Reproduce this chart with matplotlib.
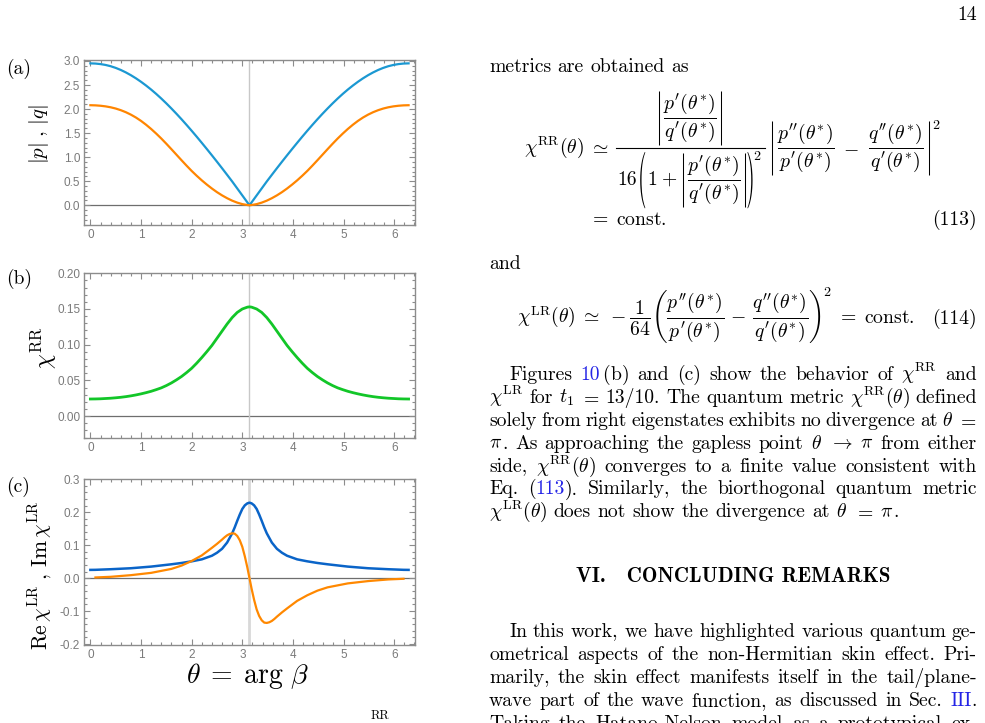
import matplotlib
matplotlib.use('Agg')
import matplotlib.pyplot as plt
from matplotlib.ticker import MultipleLocator, FormatStrFormatter
from matplotlib.font_manager import FontProperties
from matplotlib.textpath import TextPath
from matplotlib.patches import PathPatch
from matplotlib.lines import Line2D
from matplotlib.transforms import Affine2D, IdentityTransform

plt.rcParams['mathtext.fontset'] = 'cm'
plt.rcParams['axes.unicode_minus'] = True
plt.rcParams['axes.formatter.use_mathtext'] = False

W, H = 985, 723

# ---------------- data ----------------
gap_theta = 3.1416

theta_ab = [0.0, 0.1, 0.2, 0.3, 0.4, 0.5, 0.6, 0.7, 0.8, 0.9, 1.0, 1.1, 1.2, 1.3, 1.4, 1.5,
            1.6, 1.7, 1.8, 1.9, 2.0, 2.1, 2.2, 2.3, 2.4, 2.5, 2.6, 2.7, 2.8, 2.9, 3.0, 3.1,
            3.1416,
            3.1832, 3.2832, 3.3832, 3.4832, 3.5832, 3.6832, 3.7832, 3.8832, 3.9832, 4.0832,
            4.1832, 4.2832, 4.3832, 4.4832, 4.5832, 4.6832, 4.7832, 4.8832, 4.9832, 5.0832,
            5.1832, 5.2832, 5.3832, 5.4832, 5.5832, 5.6832, 5.7832, 5.8832, 5.9832, 6.0832,
            6.1832, 6.2832]

p_abs = [2.950, 2.946, 2.935, 2.917, 2.891, 2.856, 2.813, 2.762, 2.704, 2.639, 2.567, 2.489,
         2.405, 2.315, 2.219, 2.118, 2.012, 1.902, 1.788, 1.670, 1.549, 1.425, 1.298, 1.169,
         1.038, 0.905, 0.770, 0.633, 0.495, 0.350, 0.205, 0.060,
         0.0,
         0.060, 0.205, 0.350, 0.495, 0.633, 0.770, 0.905, 1.038, 1.169, 1.298, 1.425, 1.549,
         1.670, 1.788, 1.902, 2.012, 2.118, 2.219, 2.315, 2.405, 2.489, 2.567, 2.639, 2.704,
         2.762, 2.813, 2.856, 2.891, 2.917, 2.935, 2.946, 2.950]

q_abs = [2.080, 2.077, 2.069, 2.056, 2.037, 2.011, 1.977, 1.935, 1.884, 1.824, 1.754, 1.674,
         1.586, 1.490, 1.388, 1.279, 1.166, 1.051, 0.936, 0.823, 0.714, 0.613, 0.518, 0.430,
         0.348, 0.273, 0.206, 0.147, 0.096, 0.055, 0.024, 0.005,
         0.0,
         0.005, 0.024, 0.055, 0.096, 0.147, 0.206, 0.273, 0.348, 0.430, 0.518, 0.613, 0.714,
         0.823, 0.936, 1.051, 1.166, 1.279, 1.388, 1.490, 1.586, 1.674, 1.754, 1.824, 1.884,
         1.935, 1.977, 2.011, 2.037, 2.056, 2.069, 2.077, 2.080]

chi_rr = [0.0240, 0.0241, 0.0243, 0.0247, 0.0251, 0.0257, 0.0264, 0.0273, 0.0284, 0.0297,
          0.0312, 0.0329, 0.0348, 0.0371, 0.0396, 0.0428, 0.0465, 0.0508, 0.0555, 0.0610,
          0.0670, 0.0742, 0.0820, 0.0903, 0.0990, 0.1090, 0.1190, 0.1290, 0.1380, 0.1452,
          0.1500, 0.1526,
          0.1530,
          0.1526, 0.1500, 0.1452, 0.1380, 0.1290, 0.1190, 0.1090, 0.0990, 0.0903, 0.0820,
          0.0742, 0.0670, 0.0610, 0.0555, 0.0508, 0.0465, 0.0428, 0.0396, 0.0371, 0.0348,
          0.0329, 0.0312, 0.0297, 0.0284, 0.0273, 0.0264, 0.0257, 0.0251, 0.0247, 0.0243,
          0.0241, 0.0240]

theta_re = [0.0, 0.1, 0.4, 0.8, 1.2, 1.6, 1.8, 2.0, 2.2, 2.4, 2.5, 2.6, 2.7, 2.8, 2.85, 2.9, 2.95,
            3.0, 3.05, 3.1,
            3.1416,
            3.1832, 3.2332, 3.2832, 3.3332, 3.3832, 3.4332, 3.4832, 3.5832, 3.6832, 3.7832,
            3.8832, 4.0832, 4.2832, 4.4832, 4.6832, 5.0832, 5.4832, 5.8832, 6.1832, 6.2832]
re_chi_lr = [0.025, 0.0252, 0.027, 0.030, 0.035, 0.042, 0.046, 0.051, 0.057, 0.068, 0.077, 0.089,
             0.108, 0.136, 0.154, 0.174, 0.193, 0.210, 0.221, 0.227,
             0.229,
             0.227, 0.221, 0.210, 0.193, 0.174, 0.154, 0.136, 0.108, 0.089, 0.077,
             0.068, 0.057, 0.051, 0.046, 0.042, 0.035, 0.030, 0.027, 0.0252, 0.025]

theta_im = [0.1, 0.4, 0.8, 1.2, 1.6, 1.8, 2.0, 2.2, 2.4, 2.5, 2.6, 2.65, 2.7, 2.75, 2.8, 2.85,
            2.9, 2.95, 3.0, 3.05, 3.1,
            3.1416,
            3.1832, 3.2332, 3.2832, 3.3332, 3.3832, 3.4332, 3.4832, 3.5332, 3.5832, 3.6332,
            3.6832, 3.7832, 3.8832, 4.0832, 4.2832, 4.4832, 4.6832, 5.0832, 5.4832, 5.8832,
            6.1832]
im_chi_lr = [0.002, 0.004, 0.009, 0.016, 0.028, 0.038, 0.052, 0.069, 0.092, 0.104, 0.117, 0.124,
             0.130, 0.134, 0.136, 0.135, 0.128, 0.115, 0.095, 0.066, 0.032,
             0.0,
             -0.032, -0.066, -0.095, -0.115, -0.128, -0.135, -0.136, -0.134, -0.130, -0.124,
             -0.117, -0.104, -0.092, -0.069, -0.052, -0.038, -0.028, -0.016, -0.009, -0.004,
             -0.002]

x_ticks = [0, 1, 2, 3, 4, 5, 6]

# ---------------- figure ----------------
fig = plt.figure(figsize=(W / 100, H / 100), dpi=100)
renderer = fig.canvas.get_renderer()


def fx(x):
    return x / W


def fy(y):
    return 1 - y / H


FRAME = '#8c8c8c'
TICKLAB = '#7a7a7a'


def add_panel(top, bottom, ylim, ymaj, ymin, fmt):
    left, right = 84.3, 415.0
    ax = fig.add_axes([fx(left), fy(bottom), (right - left) / W, (bottom - top) / H])
    ax.set_xlim(-0.12, 6.41)
    ax.set_ylim(*ylim)
    ax.set_xticks(x_ticks)
    ax.xaxis.set_minor_locator(MultipleLocator(0.2))
    ax.yaxis.set_major_locator(MultipleLocator(ymaj))
    ax.yaxis.set_minor_locator(MultipleLocator(ymin))
    ax.yaxis.set_major_formatter(FormatStrFormatter(fmt))
    ax.tick_params(which='both', direction='in', top=True, right=True, color=FRAME,
                   labelcolor=TICKLAB, width=0.8, pad=3)
    ax.tick_params(which='major', length=4.5, labelsize=8.5)
    ax.tick_params(which='minor', length=2.3)
    for lab in ax.get_xticklabels() + ax.get_yticklabels():
        lab.set_fontfamily('Liberation Sans')
    for s in ax.spines.values():
        s.set_color(FRAME)
        s.set_linewidth(1.0)
    ax.axhline(0, color='#6e6e6e', lw=0.9, zorder=1)
    return ax


# (a)
axa = add_panel(60, 225, (-0.41, 3.02), 0.5, 0.1, '%.1f')
axa.axvline(gap_theta, color='#c8c8c8', lw=1.0, zorder=1)
axa.plot(theta_ab, p_abs, color='#1b98d2', lw=1.6, zorder=3)
axa.plot(theta_ab, q_abs, color='#ff8500', lw=1.6, zorder=3)

# (b)
axb = add_panel(272.7, 438.3, (-0.031, 0.2008), 0.05, 0.01, '%.2f')
axb.axvline(gap_theta, color='#c8c8c8', lw=1.0, zorder=1)
axb.plot(theta_ab, chi_rr, color='#12c628', lw=2.0, zorder=3)

# (c)
axc = add_panel(479.3, 645.0, (-0.203, 0.30), 0.1, 0.02, '%.1f')
axc.axvline(gap_theta, color='#d8d8d8', lw=2.0, zorder=1)
axc.plot(theta_re, re_chi_lr, color='#0a64c8', lw=1.8, zorder=3)
axc.plot(theta_im, im_chi_lr, color='#ff8800', lw=1.6, zorder=3)

# panel tags and labels
for tag, y in [('(a)', 74), ('(b)', 284), ('(c)', 492)]:
    fig.text(fx(6), fy(y), tag, fontsize=14, family='cmr10', va='baseline', ha='left')

fig.text(fx(39), fy(134), r'$|p|\;,\,|q|$', fontsize=15, rotation=90, ha='center', va='center')
fig.text(fx(44), fy(348), r'$\chi^{\mathrm{RR}}$', fontsize=17, rotation=90, ha='center', va='center')
fig.text(fx(40), fy(575), r'$\mathrm{Re}\,\chi^{\mathrm{LR}}\;,\,\mathrm{Im}\,\chi^{\mathrm{LR}}$',
         fontsize=15.5, rotation=90, ha='center', va='center')
fig.text(fx(248), fy(676), r'$\theta\;=\;\arg\,\beta$', fontsize=20, ha='center', va='center')
fig.text(fx(371), fy(719), 'RR', fontsize=9, family='cmr10', ha='left', va='baseline')

# ---------------- right column text ----------------
BODY = 14.2
LINK = '#2424e6'
X0, X1 = 489, 977


def meas(s, size=BODY, family='cmr10'):
    prop = FontProperties(size=size, family=family)
    w, h, d = renderer.get_text_width_height_descent(s, prop, ismath=('$' in s))
    return w, h, d


def put(s, x, yb, size=BODY, family='cmr10', color='black', ha='left'):
    fig.text(fx(x), fy(yb), s, fontsize=size, family=family, color=color, ha=ha, va='baseline')


def hline(x0, x1, y, lw=0.8):
    fig.add_artist(Line2D([x0, x1], [H - y, H - y], transform=IdentityTransform(),
                          color='black', lw=lw))


def vbar(x, ytop, ybot, lw=0.75):
    fig.add_artist(Line2D([x, x], [H - ytop, H - ybot], transform=IdentityTransform(),
                          color='black', lw=lw, solid_capstyle='butt'))


def seg_width(txt, size, family):
    return meas(txt, size, family)[0]


def draw_line(words, y, x0=X0, x1=X1, justify=True, size=BODY, family='cmr10'):
    widths = []
    for w in words:
        widths.append(sum(seg_width(s, size, family) for s, c in w))
    if justify and len(words) > 1:
        gap = (x1 - x0 - sum(widths)) / (len(words) - 1)
    else:
        gap = size * 100 / 72 * 0.333
    x = x0
    for w, ww in zip(words, widths):
        xx = x
        for s, c in w:
            put(s, xx, y, size, family, c)
            xx += seg_width(s, size, family)
        x += ww + gap


def W_(line):
    return [[(w, 'black')] for w in line.split(' ')]


def paren(ch, x, ytop, ybot):
    tp = TextPath((0, 0), ch, size=100, prop=FontProperties(family='cmr10'))
    ext = tp.get_extents()
    sy = (ybot - ytop) / ext.height
    sx = sy * 0.38
    tr = Affine2D().translate(-ext.x0, -ext.y0).scale(sx, sy).translate(x, H - ybot)
    fig.add_artist(PathPatch(tr.transform_path(tp), transform=IdentityTransform(),
                             facecolor='black', lw=0))
    return ext.width * sx


put('14', 977, 20, ha='right')
draw_line(W_('metrics are obtained as'), 72, justify=False)

# ---- Eq. (113), assembled from pieces ----
f_pq = r'$\dfrac{p^{\prime}(\theta^{*})}{q^{\prime}(\theta^{*})}$'
f_pp = r'$\dfrac{p^{\prime\prime}(\theta^{*})}{p^{\prime}(\theta^{*})}$'
f_qq = r'$\dfrac{q^{\prime\prime}(\theta^{*})}{q^{\prime}(\theta^{*})}$'
wf, hf, df = meas(f_pq)
up_f = hf - df
yb0 = 153
bar = yb0 - 5
sA = r'$\chi^{\mathrm{RR}}(\theta)$'
wA = meas(sA)[0]
put(sA, 524, yb0)
put(r'$\simeq$', 524 + wA + 5, yb0)
xF = 524 + wA + 5 + meas(r'$\simeq$')[0] + 7

wN = 2 + 3 + wf + 3 + 2
w16 = meas('16')[0]
w1 = meas(r'$1$')[0]
wpl = meas(r'$+$')[0]
w2 = meas('2', 10)[0]
wP = 6.0
wD = w16 + 3 + wP + 2 + w1 + 4 + wpl + 4 + (2 + 3 + wf + 3 + 2) + 2 + wP + 1 + w2
wFr = max(wN, wD) + 4
hline(xF, xF + wFr, bar)

ybN = bar - 3 - df - 1
xN = xF + (wFr - wN) / 2
vbar(xN + 1, ybN - up_f - 1, ybN + df + 1)
put(f_pq, xN + 5, ybN)
vbar(xN + 5 + wf + 4, ybN - up_f - 1, ybN + df + 1)

ybI = bar + 4 + up_f + 2
xx = xF + (wFr - wD) / 2
put('16', xx, ybI)
xx += w16 + 3
ptop, pbot = ybI - up_f - 2, ybI + df + 2
xx += paren('(', xx, ptop, pbot) + 2
put(r'$1$', xx, ybI)
xx += w1 + 4
put(r'$+$', xx, ybI)
xx += wpl + 4
vbar(xx + 1, ybI - up_f - 1, ybI + df + 1)
put(f_pq, xx + 5, ybI)
vbar(xx + 5 + wf + 4, ybI - up_f - 1, ybI + df + 1)
xx += 2 + 3 + wf + 3 + 2 + 2
xx += paren(')', xx, ptop, pbot) + 1
put('2', xx, ptop + 8, size=10)

wpp = meas(f_pp)[0]
wqq = meas(f_qq)[0]
wmi = meas(r'$-$')[0]
xR = xF + wFr + 6
vbar(xR + 1, yb0 - up_f - 1, yb0 + df + 1)
xx = xR + 6
put(f_pp, xx, yb0)
xx += wpp + 9
put(r'$-$', xx, yb0)
xx += wmi + 9
put(f_qq, xx, yb0)
xx += wqq + 5
vbar(xx, yb0 - up_f - 1, yb0 + df + 1)
put('2', xx + 3, yb0 - up_f + 7, size=10)

put(r'$=\;\mathrm{const.}$', 589, 225)
put('(113)', 977, 225, ha='right')

draw_line(W_('and'), 269, justify=False)

# ---- Eq. (114) ----
yb1 = 323
s114 = (r'$\chi^{\mathrm{LR}}(\theta)\;\simeq\;-\dfrac{1}{64}\left(\dfrac{p^{\prime\prime}(\theta^{*})}'
        r'{p^{\prime}(\theta^{*})}\,-\,\dfrac{q^{\prime\prime}(\theta^{*})}{q^{\prime}(\theta^{*})}\right)$')
w114, h114, d114 = meas(s114)
put(s114, 517, yb1)
put('2', 517 + w114 + 1, yb1 - (h114 - d114) + 8, size=10)
put(r'$=\;\mathrm{const.}$', 517 + w114 + 1 + w2 + 7, yb1)
put('(114)', 977, yb1 + 1, ha='right')

K = 'black'
chiRR = r'$\chi^{\mathrm{RR}}$'
chiLR = r'$\chi^{\mathrm{LR}}$'
chiRRt = r'$\chi^{\mathrm{RR}}(\theta)$'
chiLRt = r'$\chi^{\mathrm{LR}}(\theta)$'
par1 = [
    [[('Figures', K)], [('10', LINK), (r'$\,$(b)', K)], [('and', K)], [('(c)', K)], [('show', K)],
     [('the', K)], [('behavior', K)], [('of', K)], [(chiRR, K)], [('and', K)]],
    [[(chiLR, K)], [('for', K)], [(r'$t_1$', K)], [(r'$=$', K)], [('13/10.', K)], [('The', K)],
     [('quantum', K)], [('metric', K)], [(chiRRt, K)], [('defined', K)]],
    W_('solely from right eigenstates exhibits no divergence at') + [[(r'$\theta$', K)], [(r'$=$', K)]],
    [[(r'$\pi$', K), ('.', K)], [('As', K)], [('approaching', K)], [('the', K)], [('gapless', K)],
     [('point', K)], [(r'$\theta$', K)], [(r'$\rightarrow$', K)], [(r'$\pi$', K)], [('from', K)],
     [('either', K)]],
    [[('side,', K)], [(chiRRt, K)]] + W_('converges to a finite value consistent with'),
    [[('Eq.', K)], [('(', K), ('113', LINK), (').', K)]] + W_('Similarly, the biorthogonal quantum metric'),
]
y = 380
for i, line in enumerate(par1):
    draw_line(line, y, x0=(X0 + 20 if i == 0 else X0))
    y += 22.9
draw_line([[(chiLRt, K)]] + W_('does not show the divergence at') +
          [[(r'$\theta$', K)], [(r'$=$', K)], [(r'$\pi$', K), ('.', K)]], y, justify=False)

put('VI.   CONCLUDING REMARKS', 733, 582, size=15, family='cmb10', ha='center')

par2 = [
    W_('In this work, we have highlighted various quantum ge-'),
    W_('ometrical aspects of the non-Hermitian skin effect. Pri-'),
    W_('marily, the skin effect manifests itself in the tail/plane-'),
    W_('wave part of the wave function, as discussed in Sec.') + [[('III', LINK), ('.', K)]],
    W_('Taking the Hatano-Nelson model as a prototypical ex-'),
]
y = 637
for i, line in enumerate(par2):
    draw_line(line, y, x0=(X0 + 20 if i == 0 else X0))
    y += 22.9

fig.savefig('out.png', dpi=100)
